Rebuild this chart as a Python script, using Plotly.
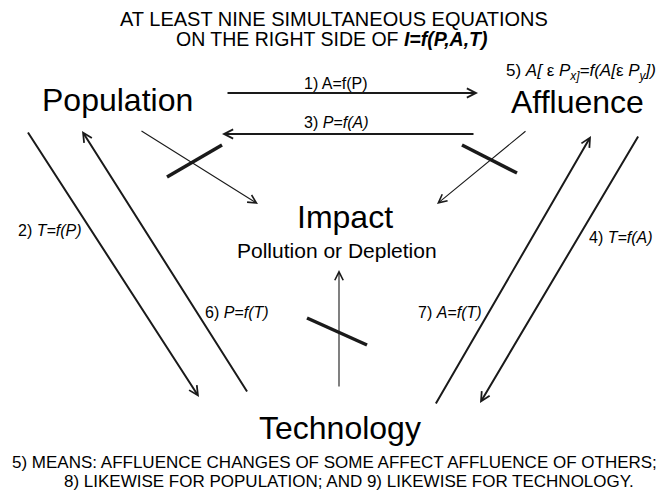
import plotly.graph_objects as go

# ---------------- data ----------------
title_lines = ["AT LEAST NINE SIMULTANEOUS EQUATIONS",
               "ON THE RIGHT SIDE OF <b><i>I=f(P,A,T)</i></b>"]
nodes = ["Population", "Affluence", "Impact", "Technology"]
impact_note = "Pollution or Depletion"
edge_from = ["Population", "Population", "Affluence", "Affluence", "Technology", "Technology"]
edge_to = ["Affluence", "Technology", "Population", "Technology", "Population", "Affluence"]
edge_labels = ["1) A=f(P)", "2) <i>T=f(P)</i>", "3) <i>P=f(A)</i>",
               "4) <i>T=f(A)</i>", "6) <i>P=f(T)</i>", "7) <i>A=f(T)</i>"]
impact_from = ["Population", "Affluence", "Technology"]
self_label = "5) <i>A[</i> ε <i>P<sub>x]</sub>=f(A[</i>ε <i>P<sub>y</sub>])</i>"
footer_lines = ["5) MEANS: AFFLUENCE CHANGES OF SOME AFFECT AFFLUENCE OF OTHERS;",
                "8) LIKEWISE FOR POPULATION; AND 9) LIKEWISE FOR TECHNOLOGY."]

# ---------------- layout geometry (pixel space, y down) ----------------
W, H = 670, 492
FONT = "Liberation Sans, Arial, sans-serif"
node_pos = {"Population": (117, 100), "Affluence": (577, 102),
            "Impact": (345, 217), "Technology": (340, 428)}
note_pos = (337, 250)
edge_geom = {  # (tail, head, label position)
    ("Population", "Affluence"): ((226, 93), (478, 93), (336, 83)),
    ("Population", "Technology"): ((27, 131), (199, 397), (50, 230)),
    ("Affluence", "Population"): ((475, 134), (222, 134), (336, 122)),
    ("Affluence", "Technology"): ((639, 135), (480, 403), (621, 237)),
    ("Technology", "Population"): ((248, 393), (82, 131), (237, 312)),
    ("Technology", "Affluence"): ((435, 405), (591, 136), (450, 312)),
}
impact_geom = {  # (tail, head, crossbar start, crossbar end)
    "Population": ((140, 130), (258, 204), (167, 177), (222, 145)),
    "Affluence": ((527, 130), (437, 204), (462, 145), (517, 173)),
    "Technology": ((339, 388), (339, 270), (307, 318), (367, 345)),
}
self_pos = (581, 72)
title_pos = [(334, 19), (332, 39)]
title_sizes = [20, 19.5]
footer_pos = [(334, 462), (349, 481)]

fig = go.Figure()
fig.add_trace(go.Scatter(x=[0, W], y=[0, H], mode="markers",
                         marker=dict(opacity=0), hoverinfo="skip", showlegend=False))

ann = []
shapes = []

def text(x, y, s, size):
    ann.append(dict(x=x, y=y, xref="x", yref="y", text=s, showarrow=False,
                    font=dict(family=FONT, size=size, color="black"),
                    xanchor="center", yanchor="middle"))

for (x, y), s, fs in zip(title_pos, title_lines, title_sizes):
    text(x, y, s, fs)
for n in nodes:
    x, y = node_pos[n]
    text(x, y, n, 32)
text(*note_pos, impact_note, 21)
text(*self_pos, self_label, 17)
for (x, y), s in zip(footer_pos, footer_lines):
    text(x, y, s, 17)

for a, b, lab in zip(edge_from, edge_to, edge_labels):
    (tx, ty), (hx, hy), (lx, ly) = edge_geom[(a, b)]
    ann.append(dict(x=hx, y=hy, ax=tx, ay=ty, xref="x", yref="y", axref="x", ayref="y",
                    text="", showarrow=True, arrowhead=5, arrowsize=0.9,
                    arrowwidth=2, arrowcolor="#1a1a1a", standoff=0))
    text(lx, ly, lab, 16)

for src in impact_from:
    (tx, ty), (hx, hy), (c1x, c1y), (c2x, c2y) = impact_geom[src]
    ann.append(dict(x=hx, y=hy, ax=tx, ay=ty, xref="x", yref="y", axref="x", ayref="y",
                    text="", showarrow=True, arrowhead=5, arrowsize=1.5,
                    arrowwidth=1.1, arrowcolor="#1a1a1a", standoff=0))
    shapes.append(dict(type="line", xref="x", yref="y", x0=c1x, y0=c1y, x1=c2x, y1=c2y,
                       line=dict(color="#1a1a1a", width=3.5)))

fig.update_layout(
    width=W, height=H, margin=dict(l=0, r=0, t=0, b=0),
    paper_bgcolor="white", plot_bgcolor="white",
    xaxis=dict(range=[0, W], visible=False, fixedrange=True),
    yaxis=dict(range=[H, 0], visible=False, fixedrange=True),
    annotations=ann, shapes=shapes, showlegend=False,
)
fig.write_html("out.html", config={"displayModeBar": False},
               post_script="document.body.style.margin='0';document.body.style.padding='0';"
                           "document.body.style.overflow='hidden';")
